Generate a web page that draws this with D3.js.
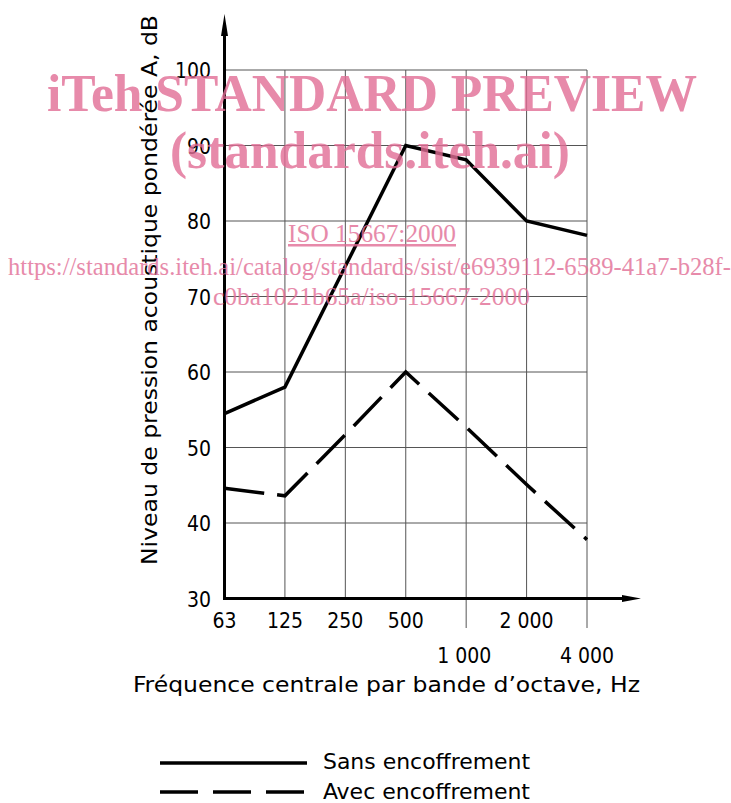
<!DOCTYPE html>
<html>
<head>
<meta charset="utf-8">
<script src="https://cdn.jsdelivr.net/npm/d3@7"></script>
<style>
  body { margin: 0; background: #fff; }
  svg { display: block; }
  .lbl { font-family: "DejaVu Sans Condensed", "DejaVu Sans", sans-serif; fill: #000; }
  .wm { font-family: "Liberation Serif", "Times New Roman", serif; fill: #e26d95; opacity: 0.8; }
</style>
</head>
<body>
<div id="chart"></div>
<script>
const bands = ["63", "125", "250", "500", "1000", "2000", "4000"];
const bandLabels = ["63", "125", "250", "500", "1 000", "2 000", "4 000"];
const sansEncoffrement = [54.5, 58, 74, 90, 88.1, 80, 78.1];
const avecEncoffrement = [44.6, 43.6, 51.7, 60, 52.7, 45.1, 37.8];
const yTicks = [30, 40, 50, 60, 70, 80, 90, 100];

const width = 731, height = 803;
const svg = d3.select("#chart").append("svg")
  .attr("width", width).attr("height", height);

const x = d3.scalePoint().domain(bands).range([224.5, 587]);
const y = d3.scaleLinear().domain([30, 100]).range([598.5, 70]);

// grille
const grid = svg.append("g").attr("stroke", "#555").attr("stroke-width", 1);
grid.selectAll("line.h").data(yTicks.slice(1)).join("line")
  .attr("x1", x("63")).attr("x2", x("4000"))
  .attr("y1", d => y(d)).attr("y2", d => y(d));
grid.selectAll("line.v").data(bands.slice(1)).join("line")
  .attr("x1", d => x(d)).attr("x2", d => x(d))
  .attr("y1", y(100))
  .attr("y2", d => (d === "1000" || d === "4000") ? 628 : y(30));

// axes avec flèches
const axes = svg.append("g");
axes.append("line")
  .attr("x1", x("63")).attr("x2", 630).attr("y1", y(30)).attr("y2", y(30))
  .attr("stroke", "#000").attr("stroke-width", 3);
axes.append("path")
  .attr("d", `M641,${y(30)} L622,${y(30) - 3.5} L622,${y(30) + 3.5} Z`)
  .attr("fill", "#000");
axes.append("line")
  .attr("x1", x("63")).attr("x2", x("63")).attr("y1", y(30) + 1.5).attr("y2", 28)
  .attr("stroke", "#000").attr("stroke-width", 3);
axes.append("path")
  .attr("d", `M${x("63")},14 L${x("63") - 3.5},36 L${x("63") + 3.5},36 Z`)
  .attr("fill", "#000");

// étiquettes de l'axe Y
svg.append("g")
  .attr("transform", `translate(211,0)`)
  .call(d3.axisLeft(y).tickValues(yTicks).tickSize(0).tickPadding(0))
  .call(g => g.select(".domain").remove())
  .call(g => g.selectAll("text")
    .attr("class", "lbl")
    .attr("font-size", 21)
    .attr("fill", "#000")
    .attr("dy", "0.36em"));

// étiquettes de l'axe X (deux rangées)
svg.append("g").selectAll("text").data(bands).join("text")
  .attr("class", "lbl")
  .attr("font-size", 21)
  .attr("text-anchor", "middle")
  .attr("x", (d, i) => x(d) + (d === "1000" ? -2 : 0))
  .attr("y", d => (d === "1000" || d === "4000") ? 663 : 628)
  .text((d, i) => bandLabels[i]);

svg.append("text")
  .attr("class", "lbl")
  .attr("font-size", 21)
  .attr("x", 133).attr("y", 692)
  .attr("textLength", 507).attr("lengthAdjust", "spacingAndGlyphs")
  .text("Fréquence centrale par bande d\u2019octave, Hz");

svg.append("text")
  .attr("class", "lbl")
  .attr("font-size", 21)
  .attr("transform", "translate(157,565) rotate(-90)")
  .attr("textLength", 550).attr("lengthAdjust", "spacingAndGlyphs")
  .text("Niveau de pression acoustique pondérée A, dB");

// courbes
const line = d3.line().x((d, i) => x(bands[i])).y(d => y(d));
svg.append("path").datum(sansEncoffrement)
  .attr("fill", "none").attr("stroke", "#000").attr("stroke-width", 3.5)
  .attr("stroke-linejoin", "miter")
  .attr("d", line);
svg.append("path").datum(avecEncoffrement)
  .attr("fill", "none").attr("stroke", "#000").attr("stroke-width", 3.5)
  .attr("stroke-dasharray", "40 13")
  .attr("d", line);

// légende
const legend = svg.append("g");
legend.append("line")
  .attr("x1", 160).attr("x2", 307).attr("y1", 763).attr("y2", 763)
  .attr("stroke", "#000").attr("stroke-width", 3.5);
legend.append("line")
  .attr("x1", 160).attr("x2", 307).attr("y1", 792).attr("y2", 792)
  .attr("stroke", "#000").attr("stroke-width", 3.5)
  .attr("stroke-dasharray", "38 15");
legend.append("text").attr("class", "lbl").attr("font-size", 21)
  .attr("x", 323).attr("y", 769)
  .attr("textLength", 207).attr("lengthAdjust", "spacingAndGlyphs")
  .text("Sans encoffrement");
legend.append("text").attr("class", "lbl").attr("font-size", 21)
  .attr("x", 323).attr("y", 799)
  .attr("textLength", 207).attr("lengthAdjust", "spacingAndGlyphs")
  .text("Avec encoffrement");

// filigrane
const wm = svg.append("g");
wm.append("text").attr("class", "wm")
  .attr("font-weight", "bold").attr("font-size", 53)
  .attr("x", 47).attr("y", 111)
  .attr("textLength", 650).attr("lengthAdjust", "spacingAndGlyphs")
  .text("iTeh STANDARD PREVIEW");
wm.append("text").attr("class", "wm")
  .attr("font-weight", "bold").attr("font-size", 53)
  .attr("x", 170).attr("y", 168)
  .attr("textLength", 400).attr("lengthAdjust", "spacingAndGlyphs")
  .text("(standards.iteh.ai)");
wm.append("text").attr("class", "wm")
  .attr("font-size", 25)
  .attr("x", 288).attr("y", 242)
  .attr("textLength", 168).attr("lengthAdjust", "spacingAndGlyphs")
  .attr("text-decoration", "underline")
  .text("ISO 15667:2000");
wm.append("text").attr("class", "wm")
  .attr("font-size", 25)
  .attr("x", 8).attr("y", 275)
  .attr("textLength", 723).attr("lengthAdjust", "spacingAndGlyphs")
  .text("https://standards.iteh.ai/catalog/standards/sist/e6939112-6589-41a7-b28f-");
wm.append("text").attr("class", "wm")
  .attr("font-size", 25)
  .attr("x", 213).attr("y", 305)
  .attr("textLength", 317).attr("lengthAdjust", "spacingAndGlyphs")
  .text("c0ba1021b65a/iso-15667-2000");
</script>
</body>
</html>
